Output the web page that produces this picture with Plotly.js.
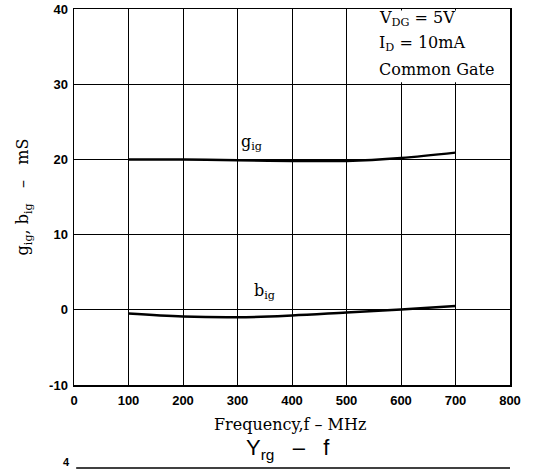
<!DOCTYPE html>
<html>
<head>
<meta charset="utf-8">
<script src="https://cdn.plot.ly/plotly-3.0.1.min.js"></script>
<style>html,body{margin:0;padding:0;background:#fff;}#chart{width:550px;height:470px;}</style>
</head>
<body>
<div id="chart"></div>
<script>
// Data
var freq = [100, 200, 300, 400, 500, 600, 700];
var gig  = [20.0, 20.0, 19.9, 19.8, 19.8, 20.2, 20.9];
var big  = [-0.5, -0.9, -1.0, -0.75, -0.35, 0.05, 0.5];
var xTicks = [0, 100, 200, 300, 400, 500, 600, 700, 800];
var xTickText = ["0", "100", "200", "300", "400", "500", "600", "700", "800"];
var yTicks = [-10, 0, 10, 20, 30, 40];
var yTickText = ["-10", "0", "10", "20", "30", "40"];

var serif = "DejaVu Serif, Liberation Serif, serif";
var sans = "Liberation Sans, Arial, sans-serif";

var traces = [
  {x: freq, y: gig, mode: "lines", line: {color: "#000", width: 2.5, shape: "spline"}, hoverinfo: "skip"},
  {x: freq, y: big, mode: "lines", line: {color: "#000", width: 2.5, shape: "spline"}, hoverinfo: "skip"}
];

var pb = 385, ph = 376; // plot bottom pixel and plot height
function py(pix) { return (pb - pix) / ph; }

var layout = {
  width: 550, height: 470,
  margin: {l: 74, r: 40, t: 9, b: 85},
  paper_bgcolor: "#fff", plot_bgcolor: "#fff",
  showlegend: false,
  xaxis: {
    range: [0, 800], tickvals: xTicks, ticktext: xTickText,
    showgrid: true, gridcolor: "#000", gridwidth: 1,
    zeroline: false, showline: true, linecolor: "#000", linewidth: 1.5, mirror: true,
    ticks: "", ticklabelstandoff: 3,
    tickfont: {family: sans, size: 13, color: "#000", weight: "bold"},
    fixedrange: true
  },
  yaxis: {
    range: [-10, 40], tickvals: yTicks, ticktext: yTickText,
    showgrid: true, gridcolor: "#000", gridwidth: 1,
    zeroline: false, showline: true, linecolor: "#000", linewidth: 1.5, mirror: true,
    ticks: "", ticklabelstandoff: 2,
    tickfont: {family: sans, size: 13, color: "#000", weight: "bold"},
    title: {text: "g<sub>ig</sub>, b<sub>ig</sub>   \u2013   mS", font: {family: serif, size: 16, color: "#000"}, standoff: 16},
    fixedrange: true
  },
  shapes: [
    {type: "rect", xref: "x", yref: "y", x0: 503, x1: 797, y0: 30.25, y1: 39.8,
     fillcolor: "#fff", line: {width: 0}, layer: "above"},
    {type: "line", xref: "paper", yref: "paper", x0: 0.005, x1: 1.0, y0: py(468), y1: py(468),
     line: {color: "#000", width: 1.5}}
  ],
  annotations: [
    {xref: "x", yref: "y", x: 326, y: 22.2, text: "g<sub>ig</sub>", showarrow: false,
     font: {family: serif, size: 16, color: "#000"}},
    {xref: "x", yref: "y", x: 350, y: 2.4, text: "b<sub>ig</sub>", showarrow: false,
     font: {family: serif, size: 16, color: "#000"}},
    {xref: "x", yref: "y", x: 556, y: 38.7, xanchor: "left", text: "V<sub>DG</sub> = 5V", showarrow: false,
     font: {family: serif, size: 16, color: "#000"}},
    {xref: "x", yref: "y", x: 556, y: 35.4, xanchor: "left", text: "I<sub>D</sub> = 10mA", showarrow: false,
     font: {family: serif, size: 16, color: "#000"}},
    {xref: "x", yref: "y", x: 556, y: 32.0, xanchor: "left", text: "Common Gate", showarrow: false,
     font: {family: serif, size: 16, color: "#000"}},
    {xref: "paper", yref: "paper", x: 0.495, y: py(424), yanchor: "middle", text: "Frequency,f \u2013 MHz", showarrow: false,
     font: {family: serif, size: 16, color: "#000"}},
    {xref: "paper", yref: "paper", x: 0.49, y: py(449), yanchor: "middle", text: "Y<sub>rg</sub>   \u2013   f", showarrow: false,
     font: {family: sans, size: 22, color: "#000"}},
    {xref: "paper", yref: "paper", x: -0.03, y: py(462), yanchor: "middle", text: "4", showarrow: false,
     font: {family: sans, size: 11, color: "#000", weight: "bold"}}
  ]
};

Plotly.newPlot("chart", traces, layout, {staticPlot: true, displayModeBar: false});
</script>
</body>
</html>
